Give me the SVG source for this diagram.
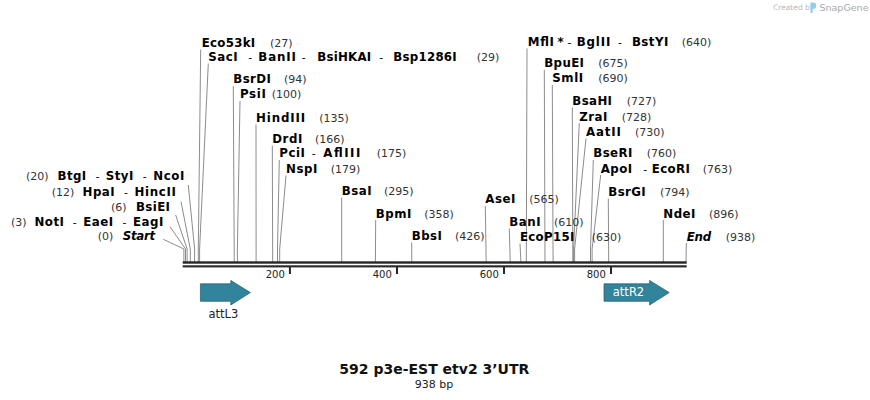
<svg xmlns="http://www.w3.org/2000/svg" width="870" height="400" viewBox="0 0 870 400">
<style>
.n{font-family:"DejaVu Sans",Verdana,sans-serif;font-weight:bold;font-size:11.8px;fill:#000}
.i{font-style:italic}
.p{font-family:"DejaVu Sans",Verdana,sans-serif;font-size:11px;fill:#333}
.d{font-family:"DejaVu Sans",Verdana,sans-serif;font-size:11px;fill:#000}
.ln{stroke:#8c8c8c;stroke-width:1;fill:none}
.bb{fill:#262626}
.tk{fill:#262626}
.tl{font-family:"DejaVu Sans",Verdana,sans-serif;font-size:10px;fill:#222;text-anchor:end}
.ft{fill:#31849b;stroke:#1c5b6b;stroke-width:0.7}
.fl{font-family:"DejaVu Sans",Verdana,sans-serif;font-size:11.5px;text-anchor:middle}
</style>
<rect width="870" height="400" fill="#fff"/>
<g id="watermark">
<text x="773" y="10" style="font-family:'DejaVu Sans',sans-serif;font-size:7.5px;fill:#b8b8b8">Created by</text>
<path d="M810.5,2.5 h2.5 a3.2,3.2 0 0 1 0,6.4 h-0.5 v4 h-2 z" fill="#8fcdf2"/>
<text x="819.5" y="10.5" style="font-family:'DejaVu Sans',sans-serif;font-size:9.5px;fill:#a8a8a8">SnapGene</text>
</g>
<g id="connectors">
<polyline class="ln" points="163.3,239.3 183.9,249 183.9,262"/>
<polyline class="ln" points="170,226.7 185.5,249 185.5,262"/>
<polyline class="ln" points="175.7,215 187.1,249 187.1,262"/>
<polyline class="ln" points="181,201.7 190.3,249 190.3,262"/>
<polyline class="ln" points="188.3,185 194.6,249 194.6,262"/>
<polyline class="ln" points="200.7,49.5 198.3,249 198.3,262"/>
<polyline class="ln" points="208.3,63.5 199.6,249 199.6,262"/>
<polyline class="ln" points="233.3,86 234.2,249 234.2,262"/>
<polyline class="ln" points="240,101 237.4,249 237.4,262"/>
<polyline class="ln" points="256,124.5 256.1,262"/>
<polyline class="ln" points="272.3,145.5 272.7,262"/>
<polyline class="ln" points="279.3,160 277.5,249 277.5,262"/>
<polyline class="ln" points="286,175.5 279.7,249 279.7,262"/>
<polyline class="ln" points="341.7,197.5 341.7,262"/>
<polyline class="ln" points="375.7,220 375.4,262"/>
<polyline class="ln" points="411.7,242.5 411.8,262"/>
<polyline class="ln" points="485.3,206 486.2,262"/>
<polyline class="ln" points="509.3,228.5 510.2,262"/>
<polyline class="ln" points="520,243.5 520.9,262"/>
<polyline class="ln" points="527,48.5 526.3,262"/>
<polyline class="ln" points="544.3,70 545,262"/>
<polyline class="ln" points="552.3,85 553.1,262"/>
<polyline class="ln" points="572.3,107.5 572.8,249 572.8,262"/>
<polyline class="ln" points="579.3,123 573.6,249 573.6,262"/>
<polyline class="ln" points="586,138.5 574.6,249 574.6,262"/>
<polyline class="ln" points="593.3,160 590.5,249 590.5,262"/>
<polyline class="ln" points="600.7,175 592.1,249 592.1,262"/>
<polyline class="ln" points="608.3,198.5 608.7,262"/>
<polyline class="ln" points="663.3,220 663.3,262"/>
<polyline class="ln" points="686.3,243 686,262"/>
</g>
<g id="backbone">
<rect class="bb" x="182.7" y="261.3" width="504" height="2.4"/>
<rect class="bb" x="182.7" y="265.3" width="504" height="2.1"/>
<rect class="tk" x="288.9" y="267" width="2" height="7"/>
<rect class="tk" x="396" y="267" width="2" height="7"/>
<rect class="tk" x="503" y="267" width="2" height="7"/>
<rect class="tk" x="610" y="267" width="2" height="7"/>
<text class="tl" x="284.8" y="277.7">200</text>
<text class="tl" x="391.8" y="277.7">400</text>
<text class="tl" x="498.8" y="277.7">600</text>
<text class="tl" x="605.8" y="277.7">800</text>
</g>
<g id="attL3">
<path class="ft" d="M200.4,283.8 H230.8 V280.4 L250.4,292.6 L230.8,305 V301.3 H200.4 Z"/>
<text class="fl" x="223.4" y="317.5" fill="#222">attL3</text>
</g>
<g id="attR2">
<path class="ft" d="M604,283.8 H649.6 V280.4 L669.2,292.6 L649.6,305 V301.3 H604 Z"/>
<text class="fl" x="628.5" y="296" fill="#fff">attR2</text>
</g>
<g id="Start"><text class="p" x="97.7" y="240">(0)</text><text class="n i" x="122.7" y="240" textLength="32.5">Start</text></g>
<g id="NotI"><text class="p" x="11" y="225.7">(3)</text><text class="n" x="34.5" y="225.7" textLength="29.5">NotI</text><text class="d" x="72.8" y="225.7">-</text><text class="n" x="83.3" y="225.7" textLength="29.8">EaeI</text><text class="d" x="122.6" y="225.7">-</text><text class="n" x="133.1" y="225.7" textLength="30.2">EagI</text></g>
<g id="BsiEI"><text class="p" x="111" y="210.7">(6)</text><text class="n" x="135.9" y="210.7" textLength="34.1">BsiEI</text></g>
<g id="HpaI"><text class="p" x="51.7" y="195.7">(12)</text><text class="n" x="82.6" y="195.7" textLength="32">HpaI</text><text class="d" x="123.9" y="195.7">-</text><text class="n" x="134.4" y="195.7" textLength="41.6">HincII</text></g>
<g id="BtgI"><text class="p" x="26" y="180">(20)</text><text class="n" x="57.5" y="180" textLength="28.7">BtgI</text><text class="d" x="95.5" y="180">-</text><text class="n" x="105.8" y="180" textLength="27.5">StyI</text><text class="d" x="142.7" y="180">-</text><text class="n" x="153.2" y="180" textLength="31.1">NcoI</text></g>
<g id="Eco53kI"><text class="n" x="201.7" y="46.7" textLength="53.5">Eco53kI</text><text class="p" x="270" y="46.7">(27)</text></g>
<g id="SacI"><text class="n" x="208.3" y="60.7" textLength="29.3">SacI</text><text class="d" x="248.3" y="60.7">-</text><text class="n" x="258.3" y="60.7" textLength="37.7">BanII</text><text class="d" x="301.7" y="60.7">-</text><text class="n" x="317.3" y="60.7" textLength="53.9">BsiHKAI</text><text class="d" x="379.3" y="60.7">-</text><text class="n" x="393.3" y="60.7" textLength="63.4">Bsp1286I</text><text class="p" x="476.7" y="60.7">(29)</text></g>
<g id="BsrDI"><text class="n" x="233.3" y="83.3" textLength="37.6">BsrDI</text><text class="p" x="284" y="83.3">(94)</text></g>
<g id="PsiI"><text class="n" x="240" y="98.3" textLength="25.8">PsiI</text><text class="p" x="271.7" y="98.3">(100)</text></g>
<g id="HindIII"><text class="n" x="256" y="121.7" textLength="49.2">HindIII</text><text class="p" x="319.3" y="121.7">(135)</text></g>
<g id="DrdI"><text class="n" x="272.3" y="142.7" textLength="30">DrdI</text><text class="p" x="315" y="142.7">(166)</text></g>
<g id="PciI"><text class="n" x="279.3" y="157.3" textLength="25.7">PciI</text><text class="d" x="311.7" y="157.3">-</text><text class="n" x="323.3" y="157.3" textLength="37">AflIII</text><text class="p" x="376.7" y="157.3">(175)</text></g>
<g id="NspI"><text class="n" x="286" y="172.7" textLength="31.3">NspI</text><text class="p" x="330.7" y="172.7">(179)</text></g>
<g id="BsaI"><text class="n" x="341.7" y="195" textLength="29.9">BsaI</text><text class="p" x="384" y="195">(295)</text></g>
<g id="BpmI"><text class="n" x="375.7" y="217.7" textLength="35.7">BpmI</text><text class="p" x="424.3" y="217.7">(358)</text></g>
<g id="BbsI"><text class="n" x="411.7" y="240" textLength="30.3">BbsI</text><text class="p" x="455" y="240">(426)</text></g>
<g id="AseI"><text class="n" x="485.3" y="203.3" textLength="30">AseI</text><text class="p" x="529.3" y="203.3">(565)</text></g>
<g id="BanI"><text class="n" x="509.3" y="226" textLength="31.3">BanI</text><text class="p" x="554" y="226">(610)</text></g>
<g id="EcoP15I"><text class="n" x="520" y="241" textLength="54.3">EcoP15I</text><text class="p" x="591.7" y="241">(630)</text></g>
<g id="MflI"><text class="n" x="527.7" y="46" textLength="26.3">MflI</text><text class="n" x="557.5" y="46">*</text><text class="d" x="567.5" y="46">-</text><text class="n" x="576.7" y="46" textLength="33.7">BglII</text><text class="d" x="618" y="46">-</text><text class="n" x="631.9" y="46" textLength="36.4">BstYI</text><text class="p" x="681.7" y="46">(640)</text></g>
<g id="BpuEI"><text class="n" x="544.3" y="67.3" textLength="39.6">BpuEI</text><text class="p" x="598.3" y="67.3">(675)</text></g>
<g id="SmlI"><text class="n" x="552.3" y="82.3" textLength="30.9">SmlI</text><text class="p" x="598.3" y="82.3">(690)</text></g>
<g id="BsaHI"><text class="n" x="572.3" y="105" textLength="39.7">BsaHI</text><text class="p" x="626.7" y="105">(727)</text></g>
<g id="ZraI"><text class="n" x="579.3" y="120.7" textLength="28">ZraI</text><text class="p" x="621.7" y="120.7">(728)</text></g>
<g id="AatII"><text class="n" x="586" y="136" textLength="34.8">AatII</text><text class="p" x="635" y="136">(730)</text></g>
<g id="BseRI"><text class="n" x="593.3" y="157.3" textLength="39">BseRI</text><text class="p" x="646.7" y="157.3">(760)</text></g>
<g id="ApoI"><text class="n" x="600.7" y="172.7" textLength="31.5">ApoI</text><text class="d" x="643.3" y="172.7">-</text><text class="n" x="651.7" y="172.7" textLength="38.3">EcoRI</text><text class="p" x="702.7" y="172.7">(763)</text></g>
<g id="BsrGI"><text class="n" x="608.3" y="196" textLength="37.4">BsrGI</text><text class="p" x="660" y="196">(794)</text></g>
<g id="NdeI"><text class="n" x="663.3" y="217.7" textLength="32.1">NdeI</text><text class="p" x="709" y="217.7">(896)</text></g>
<g id="End"><text class="n i" x="686.7" y="240.7" textLength="24.4">End</text><text class="p" x="725.7" y="240.7">(938)</text></g>
<g id="title">
<text x="434.3" y="374" text-anchor="middle" style="font-family:'DejaVu Sans',Verdana,sans-serif;font-weight:bold;font-size:14px;fill:#111">592 p3e-EST etv2 3’UTR</text>
<text x="434" y="387.5" text-anchor="middle" style="font-family:'DejaVu Sans',Verdana,sans-serif;font-size:11px;fill:#222">938 bp</text>
</g>
</svg>
